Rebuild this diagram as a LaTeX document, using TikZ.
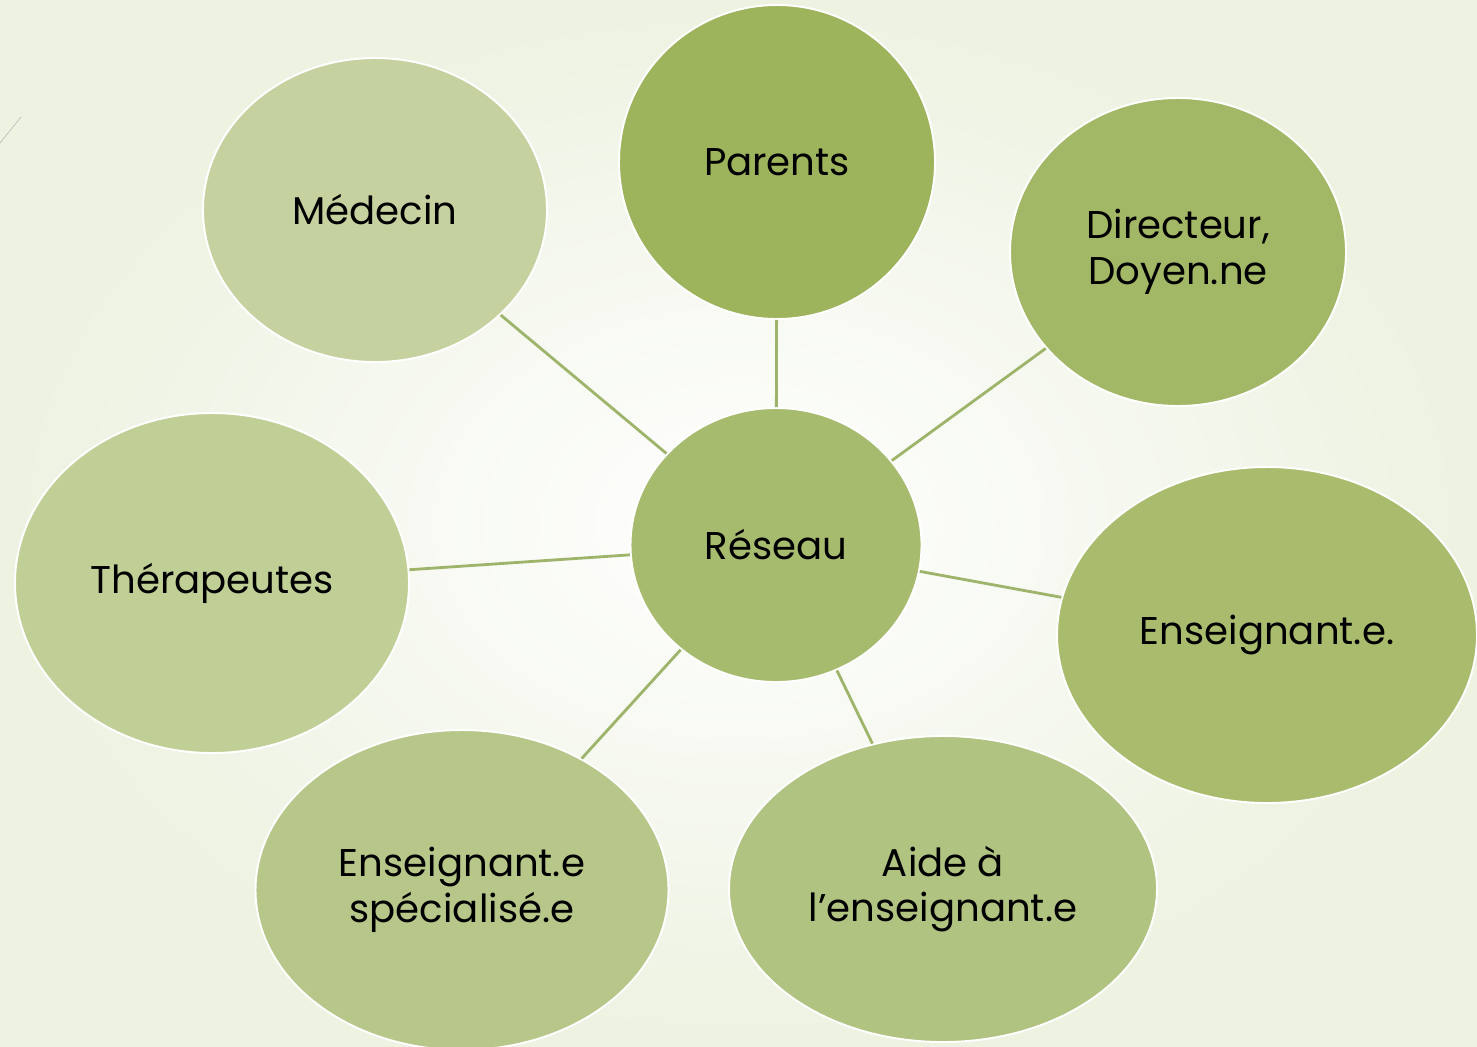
\documentclass[tikz,border=0pt]{standalone}
\usepackage{fontspec}
\setmainfont{Poppins}
\usetikzlibrary{shapes.geometric}

\definecolor{bggreen}{HTML}{EDF2E1}
\definecolor{linkgreen}{HTML}{9DB46A}
\definecolor{cParents}{HTML}{9DB35C}
\definecolor{cMedecin}{HTML}{C5D2A0}
\definecolor{cDirecteur}{HTML}{A3B866}
\definecolor{cReseau}{HTML}{A7BB6E}
\definecolor{cTherap}{HTML}{C0CF96}
\definecolor{cEns}{HTML}{A9BC6D}
\definecolor{cSpec}{HTML}{B7C78A}
\definecolor{cAide}{HTML}{B1C380}

\begin{document}
\begin{tikzpicture}[
        bubble/.style={ellipse, draw=white, line width=1.1pt, inner sep=0pt, align=center,
                font=\fontsize{22}{26}\selectfont},
        link/.style={draw=linkgreen, line width=1.6pt}
        ]

        % Background
        \shade[inner color=white, outer color=bggreen] (0,0) rectangle (29.54,-20.92);
        \useasboundingbox (0,0) rectangle (29.54,-20.92);
        \draw[black!25, line width=0.4pt] (0,-2.86) -- (0.42,-2.34);

        % Nodes
        \node[bubble, fill=cReseau, minimum width=5.82cm, minimum height=5.48cm] (Reseau) at (15.52,-10.90) {Réseau};
        \node[bubble, fill=cParents, minimum width=6.32cm, minimum height=6.28cm] (Parents) at (15.54,-3.24) {Parents};
        \node[bubble, fill=cMedecin, minimum width=6.88cm, minimum height=6.08cm] (Medecin) at (7.50,-4.20) {Médecin};
        \node[bubble, fill=cDirecteur, minimum width=6.72cm, minimum height=6.16cm] (Directeur) at (23.56,-5.04) {Directeur,\\ Doyen.ne};
        \node[bubble, fill=cTherap, minimum width=7.88cm, minimum height=6.80cm] (Therapeutes) at (4.24,-11.66) {Thérapeutes};
        \node[bubble, fill=cEns, minimum width=8.40cm, minimum height=6.72cm] (Enseignant) at (25.34,-12.70) {Enseignant.e.};
        \node[bubble, fill=cSpec, minimum width=8.26cm, minimum height=6.40cm] (Specialise) at (9.24,-17.80) {Enseignant.e\\ spécialisé.e};
        \node[bubble, fill=cAide, minimum width=8.56cm, minimum height=6.12cm] (Aide) at (18.86,-17.78) {Aide à\\ l’enseignant.e};

        % Connect the network to each partner
        \foreach \p in {Parents, Medecin, Directeur, Therapeutes, Enseignant, Specialise, Aide}
            { \draw[link] (Reseau) -- (\p); }

    \end{tikzpicture}
\end{document}
